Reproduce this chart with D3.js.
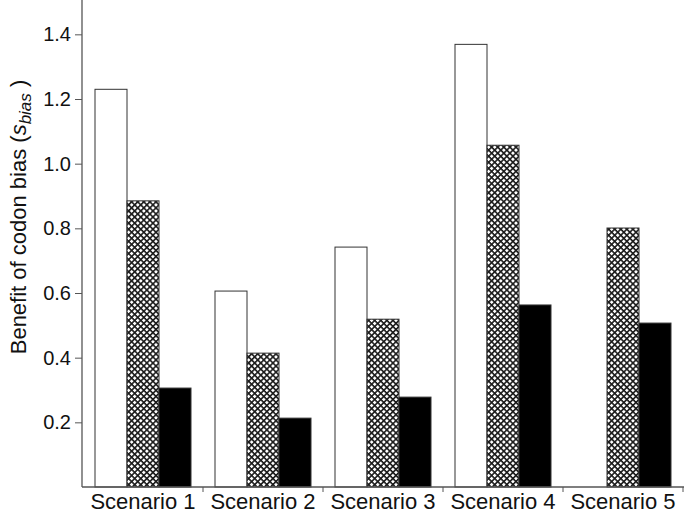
<!DOCTYPE html>
<meta charset="utf-8">
<style>
  body { margin: 0; background: #fff; }
  text { font-family: "Liberation Sans", Arial, Helvetica, sans-serif; }
</style>
<script src="https://cdn.jsdelivr.net/npm/d3@7"></script>
<div id="chart"></div>
<script>

// data
var scenarios = ["Scenario 1", "Scenario 2", "Scenario 3", "Scenario 4", "Scenario 5"];
var series = ["open", "hatched", "solid"];
var openVals    = [1.230, 0.606, 0.742, 1.369, null];
var hatchedVals = [0.885, 0.414, 0.519, 1.057, 0.801];
var solidVals   = [0.306, 0.213, 0.278, 0.563, 0.507];
var yTicks = [0.2, 0.4, 0.6, 0.8, 1.0, 1.2, 1.4];

var W = 685, H = 516;

var svg = d3.select("#chart").append("svg")
    .attr("width", W)
    .attr("height", H);

// crosshatch pattern
var defs = svg.append("defs");
var pat = defs.append("pattern")
    .attr("id", "xhatch")
    .attr("patternUnits", "userSpaceOnUse")
    .attr("width", 4.3)
    .attr("height", 4.3)
    .attr("patternTransform", "rotate(45)");
pat.append("rect").attr("width", 4.3).attr("height", 4.3).attr("fill", "#fff");
pat.append("rect").attr("x", 0).attr("y", 0).attr("width", 1.6).attr("height", 4.3).attr("fill", "#1a1a1a");
pat.append("rect").attr("x", 0).attr("y", 0).attr("width", 4.3).attr("height", 1.6).attr("fill", "#1a1a1a");

var fills = { open: "#fff", hatched: "url(#xhatch)", solid: "#000" };

var x = d3.scaleBand()
    .domain(scenarios)
    .range([83, 683])
    .padding(0);

var xSub = d3.scaleBand()
    .domain(series)
    .range([12, 108])
    .padding(0);

var y = d3.scaleLinear()
    .domain([0, 1.5])
    .range([487, 2]);

// table built from the arrays
var rows = scenarios.map(function(s, i) {
  return { name: s, open: openVals[i], hatched: hatchedVals[i], solid: solidVals[i] };
});

// bars
var groups = svg.append("g").selectAll("g")
  .data(rows)
  .enter().append("g")
    .attr("transform", function(d) { return "translate(" + x(d.name) + ",0)"; });

groups.selectAll("rect")
  .data(function(d) {
    return series.map(function(k) { return { key: k, value: d[k] }; })
      .filter(function(e) { return e.value != null; });
  })
  .enter().append("rect")
    .attr("x", function(d) { return xSub(d.key); })
    .attr("y", function(d) { return y(d.value); })
    .attr("width", xSub.bandwidth())
    .attr("height", function(d) { return y(0) - y(d.value); })
    .attr("fill", function(d) { return fills[d.key]; })
    .attr("stroke", "#333")
    .attr("stroke-width", 1);

// y axis
var yAxis = svg.append("g")
    .attr("transform", "translate(82,0)")
    .call(d3.axisLeft(y).tickValues(yTicks).tickFormat(d3.format(".1f")).tickSize(7).tickSizeOuter(0).tickPadding(4));
yAxis.attr("font-size", 20).attr("font-family", "'Liberation Sans', Arial, sans-serif");
yAxis.select(".domain").attr("d", "M0,0V487").attr("stroke", "#555").attr("stroke-width", 1.3);
yAxis.selectAll(".tick line").attr("stroke", "#555");
yAxis.selectAll(".tick text").attr("fill", "#111");

// x axis: ticks at band boundaries
var xAxis = svg.append("g").attr("transform", "translate(0,487)");
xAxis.append("line")
    .attr("x1", 82).attr("x2", 684)
    .attr("stroke", "#555").attr("stroke-width", 1.3);
xAxis.selectAll(".bt")
  .data(scenarios)
  .enter().append("line")
    .attr("class", "bt")
    .attr("x1", function(d) { return x(d) + x.bandwidth(); })
    .attr("x2", function(d) { return x(d) + x.bandwidth(); })
    .attr("y1", 0).attr("y2", 5)
    .attr("stroke", "#555");
xAxis.selectAll(".lbl")
  .data(scenarios)
  .enter().append("text")
    .attr("class", "lbl")
    .attr("x", function(d) { return x(d) + x.bandwidth() / 2; })
    .attr("y", 22)
    .attr("text-anchor", "middle")
    .attr("font-size", 22)
    .attr("fill", "#111")
    .text(function(d) { return d; });

// y label with subscript
var ylab = svg.append("text")
    .attr("transform", "translate(26,217) rotate(-90)")
    .attr("text-anchor", "middle")
    .attr("font-size", 22)
    .attr("fill", "#111");
ylab.append("tspan").text("Benefit of codon bias  (");
ylab.append("tspan").attr("font-style", "italic").text("s");
ylab.append("tspan").attr("font-style", "italic").attr("font-size", 17).attr("dy", 5).text("bias");
ylab.append("tspan").attr("dy", -5).text(" )");

</script>
